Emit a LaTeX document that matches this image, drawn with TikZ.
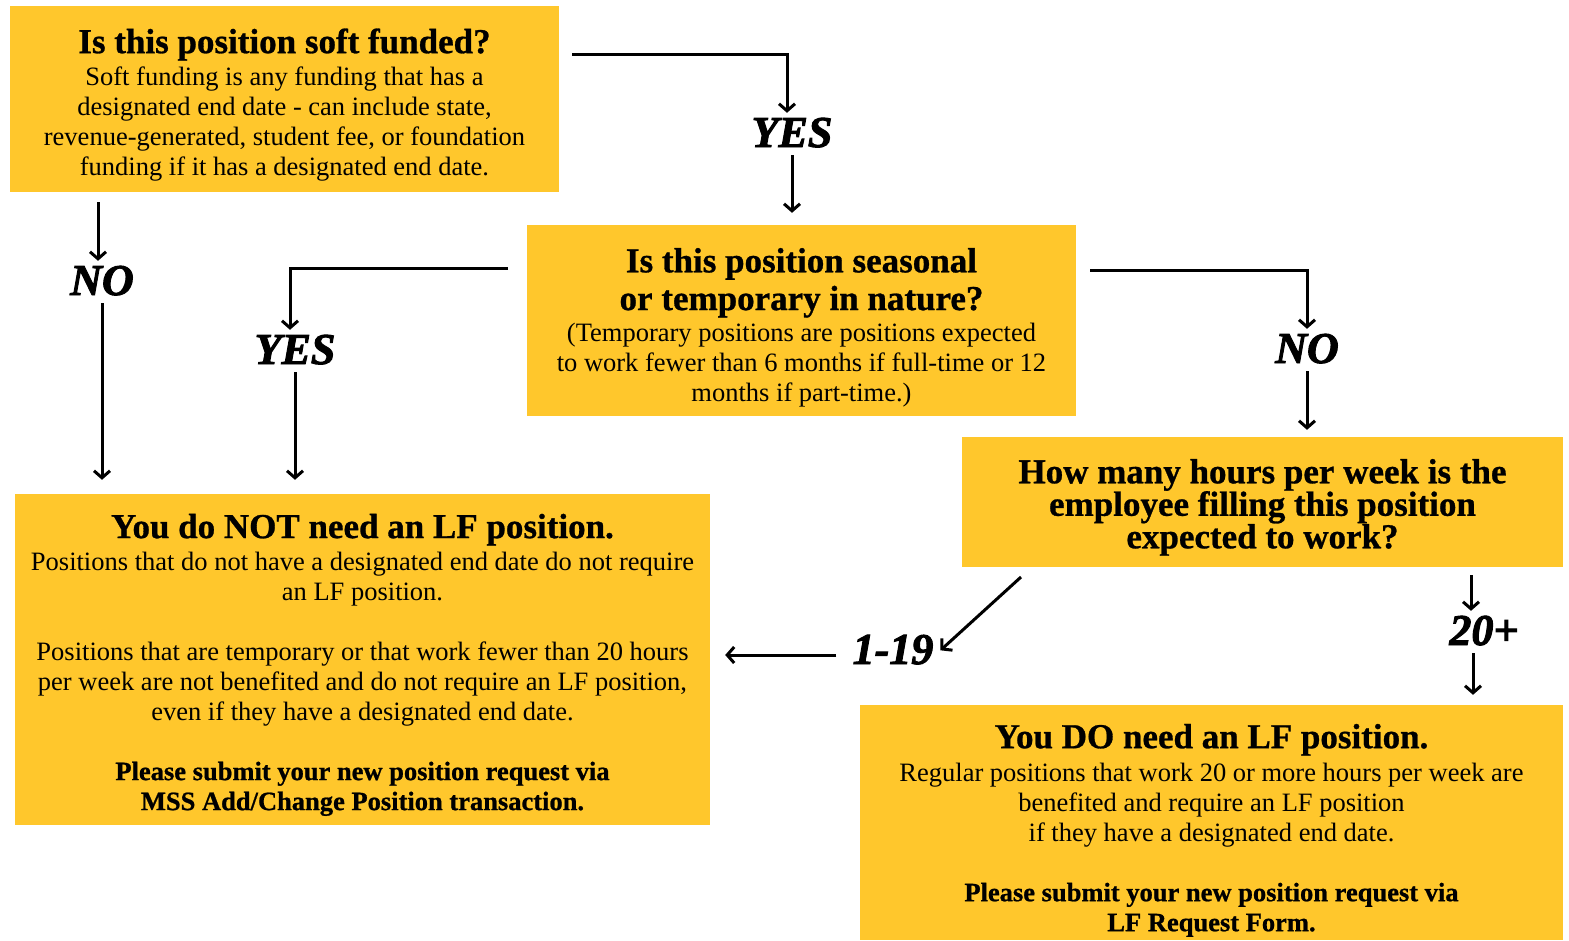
\documentclass[tikz,border=0pt]{standalone}
\usepackage{fontspec}
\setmainfont{Liberation Serif}[BoldFeatures={FakeBold=0.8}]
\newfontfamily\lblfont{Liberation Serif}[BoldItalicFeatures={FakeBold=2.2}]
\usetikzlibrary{arrows.meta}
\definecolor{boxyellow}{HTML}{FFC72C}
\newcommand{\hd}[1]{{\bfseries\fontsize{35}{35}\selectfont #1}}
\begin{document}
\begin{tikzpicture}[x=1pt,y=-1pt,
  box/.style={fill=boxyellow,draw=none,inner sep=0pt,align=center,
    font=\fontsize{26.5}{30}\selectfont},
  lbl/.style={font=\lblfont\fontsize{44}{44}\selectfont\bfseries\itshape,inner sep=4pt,
    text height=30pt,text depth=0pt},
  conn/.style={line width=3pt,-{Straight Barb[length=7pt,width=16pt,line width=3pt]}}]
\useasboundingbox (0,0) rectangle (1569,940);
\fill[white] (0,0) rectangle (1569,940);

\node[box,minimum width=549pt,minimum height=186pt] (b1) at (284.5,99)
 {\rule{0pt}{36pt}\hd{Is this position soft funded?}\\[2pt]
  Soft funding is any funding that has a\\
  designated end date - can include state,\\
  revenue-generated, student fee, or foundation\\
  funding if it has a designated end date.};

\node[box,minimum width=549pt,minimum height=191pt] (b2) at (801.5,320.5)
 {\rule{0pt}{38pt}\hd{Is this position seasonal}\\[5pt]
  \hd{or temporary in nature?}\\[1pt]
  (Temporary positions are positions expected\\
  to work fewer than 6 months if full-time or 12\\
  months if part-time.)};

\node[box,minimum width=601pt,minimum height=130pt,
  font=\bfseries\fontsize{35}{32.5}\selectfont] (b3) at (1262.5,502)
 {\rule{0pt}{35pt}How many hours per week is the\\
  employee filling this position\\
  expected to work?};

\node[box,minimum width=695pt,minimum height=331pt] (b4) at (362.5,659.5)
 {\rule{0pt}{35pt}\hd{You do NOT need an LF position.}\\[2pt]
  Positions that do not have a designated end date do not require\\
  an LF position.\\[30pt]
  Positions that are temporary or that work fewer than 20 hours\\
  per week are not benefited and do not require an LF position,\\
  even if they have a designated end date.\\[30pt]
  \textbf{Please submit your new position request via}\\
  \textbf{MSS Add/Change Position transaction.}};

\node[box,minimum width=703pt,minimum height=235pt] (b5) at (1211.5,822.5)
 {\rule{0pt}{40pt}\hd{You DO need an LF position.}\\[3pt]
  Regular positions that work 20 or more hours per week are\\
  benefited and require an LF position\\
  if they have a designated end date.\\[30pt]
  \textbf{Please submit your new position request via}\\
  \textbf{LF Request Form.}};

\node[lbl] (yes1) at (792,132) {YES};
\node[lbl] (no1) at (102,280) {NO};
\node[lbl] (yes2) at (295,349) {YES};
\node[lbl] (no2) at (1307,348) {NO};
\node[lbl] (l119) at (893,649) {1-19};
\node[lbl] (l20) at (1484,630) {20+};

\coordinate (c1) at (572,54);
\coordinate (c2) at (98,202);
\coordinate (c3) at (508,268);
\coordinate (c4) at (1090,270);
\coordinate (c5) at (1021,577);
\coordinate (c6) at (1471,575);

\draw[conn] (c1) -| ([xshift=-5pt]yes1.north);
\draw[conn,shorten <=4pt,shorten >=12pt] (yes1.south) -- (yes1.south |- b2.north);
\draw[conn] (c2) -- (c2 |- no1.north);
\draw[conn,shorten <=4pt,shorten >=14pt] (no1.south) -- (no1.south |- b4.north);
\draw[conn] (c3) -| ([xshift=-5pt]yes2.north);
\draw[conn,shorten <=4pt,shorten >=14pt] (yes2.south) -- (yes2.south |- b4.north);
\draw[conn] (c4) -| (no2.north);
\draw[conn,shorten <=4pt,shorten >=7pt] (no2.south) -- (no2.south |- b3.north);
\draw[conn,shorten >=4pt] (c5) -- ([yshift=-4pt]l119.east);
\draw[conn,shorten <=12pt,shorten >=15pt] ([yshift=-6pt]l119.west) -- ([yshift=-6pt]l119.west -| b4.east);
\draw[conn] (c6) -- (c6 |- l20.north);
\draw[conn,shorten <=4pt,shorten >=10pt] ([xshift=-11pt]l20.south) -- ([xshift=-11pt]l20.south |- b5.north);
\end{tikzpicture}
\end{document}
